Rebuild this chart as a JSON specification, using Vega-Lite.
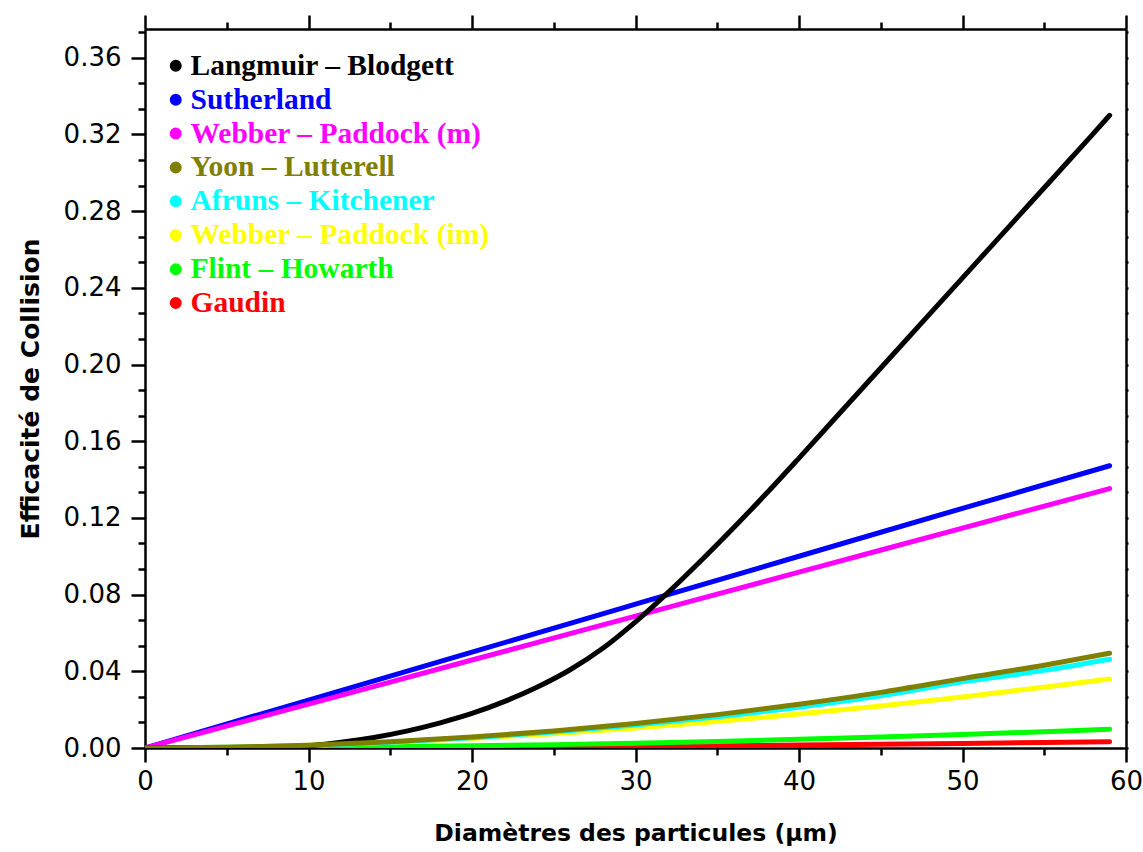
{
  "$schema": "https://vega.github.io/schema/vega-lite/v6.json",
  "width": 981,
  "height": 719,
  "autosize": {"type": "none"},
  "padding": {"left": 145, "top": 29, "right": 17, "bottom": 104},
  "background": "white",
  "config": {"view": {"stroke": null}, "font": "DejaVu Sans"},
  "data": {"values": [
    {"d": 0, "E": 0, "model": "Gaudin"},
    {"d": 5, "E": 0.00002, "model": "Gaudin"},
    {"d": 10, "E": 0.0001, "model": "Gaudin"},
    {"d": 15, "E": 0.0002, "model": "Gaudin"},
    {"d": 20, "E": 0.0004, "model": "Gaudin"},
    {"d": 25, "E": 0.0006, "model": "Gaudin"},
    {"d": 30, "E": 0.00085, "model": "Gaudin"},
    {"d": 35, "E": 0.00116, "model": "Gaudin"},
    {"d": 40, "E": 0.0015, "model": "Gaudin"},
    {"d": 45, "E": 0.0019, "model": "Gaudin"},
    {"d": 50, "E": 0.0024, "model": "Gaudin"},
    {"d": 55, "E": 0.0029, "model": "Gaudin"},
    {"d": 59, "E": 0.0033, "model": "Gaudin"},
    {"d": 0, "E": 0, "model": "Flint – Howarth"},
    {"d": 5, "E": 0.00007, "model": "Flint – Howarth"},
    {"d": 10, "E": 0.00028, "model": "Flint – Howarth"},
    {"d": 15, "E": 0.00063, "model": "Flint – Howarth"},
    {"d": 20, "E": 0.00113, "model": "Flint – Howarth"},
    {"d": 25, "E": 0.00176, "model": "Flint – Howarth"},
    {"d": 30, "E": 0.00253, "model": "Flint – Howarth"},
    {"d": 35, "E": 0.00345, "model": "Flint – Howarth"},
    {"d": 40, "E": 0.0045, "model": "Flint – Howarth"},
    {"d": 45, "E": 0.0057, "model": "Flint – Howarth"},
    {"d": 50, "E": 0.00704, "model": "Flint – Howarth"},
    {"d": 55, "E": 0.00852, "model": "Flint – Howarth"},
    {"d": 59, "E": 0.0098, "model": "Flint – Howarth"},
    {"d": 0, "E": 0, "model": "Webber – Paddock (im)"},
    {"d": 5, "E": 0.00039, "model": "Webber – Paddock (im)"},
    {"d": 10, "E": 0.0014, "model": "Webber – Paddock (im)"},
    {"d": 15, "E": 0.00294, "model": "Webber – Paddock (im)"},
    {"d": 20, "E": 0.00497, "model": "Webber – Paddock (im)"},
    {"d": 25, "E": 0.00748, "model": "Webber – Paddock (im)"},
    {"d": 30, "E": 0.01044, "model": "Webber – Paddock (im)"},
    {"d": 35, "E": 0.01385, "model": "Webber – Paddock (im)"},
    {"d": 40, "E": 0.0177, "model": "Webber – Paddock (im)"},
    {"d": 45, "E": 0.0219, "model": "Webber – Paddock (im)"},
    {"d": 50, "E": 0.0266, "model": "Webber – Paddock (im)"},
    {"d": 55, "E": 0.0317, "model": "Webber – Paddock (im)"},
    {"d": 59, "E": 0.036, "model": "Webber – Paddock (im)"},
    {"d": 0, "E": 0, "model": "Afruns – Kitchener"},
    {"d": 5, "E": 0.00033, "model": "Afruns – Kitchener"},
    {"d": 10, "E": 0.00133, "model": "Afruns – Kitchener"},
    {"d": 15, "E": 0.003, "model": "Afruns – Kitchener"},
    {"d": 20, "E": 0.0053, "model": "Afruns – Kitchener"},
    {"d": 25, "E": 0.0083, "model": "Afruns – Kitchener"},
    {"d": 30, "E": 0.012, "model": "Afruns – Kitchener"},
    {"d": 35, "E": 0.0163, "model": "Afruns – Kitchener"},
    {"d": 40, "E": 0.0213, "model": "Afruns – Kitchener"},
    {"d": 45, "E": 0.0272, "model": "Afruns – Kitchener"},
    {"d": 50, "E": 0.0345, "model": "Afruns – Kitchener"},
    {"d": 55, "E": 0.0405, "model": "Afruns – Kitchener"},
    {"d": 59, "E": 0.0463, "model": "Afruns – Kitchener"},
    {"d": 0, "E": 0, "model": "Sutherland"},
    {"d": 10, "E": 0.025, "model": "Sutherland"},
    {"d": 20, "E": 0.05, "model": "Sutherland"},
    {"d": 30, "E": 0.075, "model": "Sutherland"},
    {"d": 40, "E": 0.1, "model": "Sutherland"},
    {"d": 50, "E": 0.125, "model": "Sutherland"},
    {"d": 59, "E": 0.1472, "model": "Sutherland"},
    {"d": 0, "E": 0, "model": "Webber – Paddock (m)"},
    {"d": 10, "E": 0.0229, "model": "Webber – Paddock (m)"},
    {"d": 20, "E": 0.0459, "model": "Webber – Paddock (m)"},
    {"d": 30, "E": 0.0688, "model": "Webber – Paddock (m)"},
    {"d": 40, "E": 0.0917, "model": "Webber – Paddock (m)"},
    {"d": 50, "E": 0.1147, "model": "Webber – Paddock (m)"},
    {"d": 59, "E": 0.1353, "model": "Webber – Paddock (m)"},
    {"d": 0, "E": 0, "model": "Langmuir – Blodgett"},
    {"d": 5, "E": 0.0002, "model": "Langmuir – Blodgett"},
    {"d": 8, "E": 0.0006, "model": "Langmuir – Blodgett"},
    {"d": 10, "E": 0.0012, "model": "Langmuir – Blodgett"},
    {"d": 12, "E": 0.003, "model": "Langmuir – Blodgett"},
    {"d": 14, "E": 0.0055, "model": "Langmuir – Blodgett"},
    {"d": 16, "E": 0.0088, "model": "Langmuir – Blodgett"},
    {"d": 18, "E": 0.013, "model": "Langmuir – Blodgett"},
    {"d": 20, "E": 0.018, "model": "Langmuir – Blodgett"},
    {"d": 22, "E": 0.0243, "model": "Langmuir – Blodgett"},
    {"d": 24, "E": 0.0318, "model": "Langmuir – Blodgett"},
    {"d": 26, "E": 0.0408, "model": "Langmuir – Blodgett"},
    {"d": 28, "E": 0.052, "model": "Langmuir – Blodgett"},
    {"d": 30, "E": 0.0658, "model": "Langmuir – Blodgett"},
    {"d": 32, "E": 0.0812, "model": "Langmuir – Blodgett"},
    {"d": 34, "E": 0.0977, "model": "Langmuir – Blodgett"},
    {"d": 36, "E": 0.1149, "model": "Langmuir – Blodgett"},
    {"d": 38, "E": 0.1327, "model": "Langmuir – Blodgett"},
    {"d": 40, "E": 0.1512, "model": "Langmuir – Blodgett"},
    {"d": 42, "E": 0.17, "model": "Langmuir – Blodgett"},
    {"d": 44, "E": 0.1888, "model": "Langmuir – Blodgett"},
    {"d": 46, "E": 0.2076, "model": "Langmuir – Blodgett"},
    {"d": 48, "E": 0.2264, "model": "Langmuir – Blodgett"},
    {"d": 50, "E": 0.2452, "model": "Langmuir – Blodgett"},
    {"d": 52, "E": 0.264, "model": "Langmuir – Blodgett"},
    {"d": 54, "E": 0.2828, "model": "Langmuir – Blodgett"},
    {"d": 56, "E": 0.3016, "model": "Langmuir – Blodgett"},
    {"d": 58, "E": 0.3204, "model": "Langmuir – Blodgett"},
    {"d": 59, "E": 0.33, "model": "Langmuir – Blodgett"},
    {"d": 0, "E": 0, "model": "Yoon – Lutterell"},
    {"d": 5, "E": 0.00035, "model": "Yoon – Lutterell"},
    {"d": 10, "E": 0.00142, "model": "Yoon – Lutterell"},
    {"d": 15, "E": 0.0032, "model": "Yoon – Lutterell"},
    {"d": 20, "E": 0.0057, "model": "Yoon – Lutterell"},
    {"d": 25, "E": 0.0089, "model": "Yoon – Lutterell"},
    {"d": 30, "E": 0.0128, "model": "Yoon – Lutterell"},
    {"d": 35, "E": 0.0174, "model": "Yoon – Lutterell"},
    {"d": 40, "E": 0.0228, "model": "Yoon – Lutterell"},
    {"d": 45, "E": 0.029, "model": "Yoon – Lutterell"},
    {"d": 50, "E": 0.0362, "model": "Yoon – Lutterell"},
    {"d": 55, "E": 0.0432, "model": "Yoon – Lutterell"},
    {"d": 59, "E": 0.0494, "model": "Yoon – Lutterell"}
  ]},
  "layer": [
    {
      "mark": {"type": "line", "strokeWidth": 5, "strokeCap": "round", "interpolate": "monotone", "clip": true},
      "encoding": {
        "x": {
          "field": "d", "type": "quantitative",
          "scale": {"domain": [0, 60], "nice": false, "zero": false},
          "axis": {
            "orient": "bottom",
            "values": [0, 5, 10, 15, 20, 25, 30, 35, 40, 45, 50, 55, 60],
            "labelExpr": "datum.value % 10 === 0 ? format(datum.value, 'd') : ''",
            "tickSize": {"condition": {"test": "datum.value % 10 === 0", "value": 14}, "value": 7},
            "tickWidth": 2.5, "tickColor": "black",
            "domainColor": "black", "domainWidth": 2.5,
            "labelFont": "DejaVu Sans", "labelFontSize": 26, "labelColor": "black",
            "labelPadding": 6, "labelOverlap": false, "labelFlush": false,
            "grid": false,
            "title": "Diamètres des particules (µm)",
            "titleFont": "DejaVu Sans", "titleFontWeight": "bold", "titleFontSize": 23.5,
            "titleColor": "black", "titlePadding": 27
          }
        },
        "y": {
          "field": "E", "type": "quantitative",
          "scale": {"domain": [0, 0.375], "nice": false},
          "axis": {
            "orient": "left",
            "values": [0, 0.013333, 0.026667, 0.04, 0.053333, 0.066667, 0.08, 0.093333, 0.106667, 0.12, 0.133333, 0.146667, 0.16, 0.173333, 0.186667, 0.2, 0.213333, 0.226667, 0.24, 0.253333, 0.266667, 0.28, 0.293333, 0.306667, 0.32, 0.333333, 0.346667, 0.36, 0.373333],
            "labelExpr": "abs(datum.value * 25 - round(datum.value * 25)) < 0.001 ? format(datum.value, '.2f') : ''",
            "tickSize": {"condition": {"test": "abs(datum.value * 25 - round(datum.value * 25)) < 0.001", "value": 14}, "value": 7},
            "tickWidth": 2.5, "tickColor": "black",
            "domainColor": "black", "domainWidth": 2.5,
            "labelFont": "DejaVu Sans", "labelFontSize": 26, "labelColor": "black",
            "labelPadding": 10, "labelOverlap": false, "labelFlush": false,
            "grid": false,
            "title": "Efficacité de Collision",
            "titleFont": "DejaVu Sans", "titleFontWeight": "bold", "titleFontSize": 25,
            "titleColor": "black", "titlePadding": 20
          }
        },
        "color": {
          "field": "model", "type": "nominal",
          "scale": {
            "domain": ["Langmuir – Blodgett", "Sutherland", "Webber – Paddock (m)", "Yoon – Lutterell", "Afruns – Kitchener", "Webber – Paddock (im)", "Flint – Howarth", "Gaudin"],
            "range": ["#000000", "#0000FF", "#FF00FF", "#808000", "#00FFFF", "#FFFF00", "#00FF00", "#FF0000"]
          },
          "legend": {
            "orient": "none", "legendX": 16, "legendY": 22,
            "title": null, "padding": 0,
            "symbolType": "circle", "symbolSize": 110,
            "labelFont": "Liberation Serif", "labelFontWeight": "bold", "labelFontSize": 29.5,
            "labelLimit": 500, "labelOffset": 0, "rowPadding": 2.9,
            "encode": {
              "symbols": {"update": {"fill": {"scale": "color", "field": "value"}, "stroke": {"value": "transparent"}, "fillOpacity": {"value": 1}}},
              "labels": {"update": {"fill": {"scale": "color", "field": "value"}}}
            }
          }
        }
      }
    },
    {
      "mark": {"type": "line", "opacity": 0},
      "encoding": {
        "x": {
          "field": "d", "type": "quantitative",
          "axis": {
            "orient": "top",
            "values": [0, 5, 10, 15, 20, 25, 30, 35, 40, 45, 50, 55, 60],
            "labels": false,
            "tickSize": {"condition": {"test": "datum.value % 10 === 0", "value": 14}, "value": 7},
            "tickWidth": 2.5, "tickColor": "black",
            "domainColor": "black", "domainWidth": 2.5,
            "grid": false, "title": null
          }
        },
        "y": {
          "field": "E", "type": "quantitative",
          "axis": {
            "orient": "right",
            "values": [0, 0.013333, 0.026667, 0.04, 0.053333, 0.066667, 0.08, 0.093333, 0.106667, 0.12, 0.133333, 0.146667, 0.16, 0.173333, 0.186667, 0.2, 0.213333, 0.226667, 0.24, 0.253333, 0.266667, 0.28, 0.293333, 0.306667, 0.32, 0.333333, 0.346667, 0.36, 0.373333],
            "labels": false, "tickSize": 2,
            "tickWidth": 2.5, "tickColor": "black",
            "domainColor": "black", "domainWidth": 2.5,
            "grid": false, "title": null
          }
        },
        "detail": {"field": "model", "type": "nominal"}
      }
    }
  ],
  "resolve": {"axis": {"x": "independent", "y": "independent"}}
}
